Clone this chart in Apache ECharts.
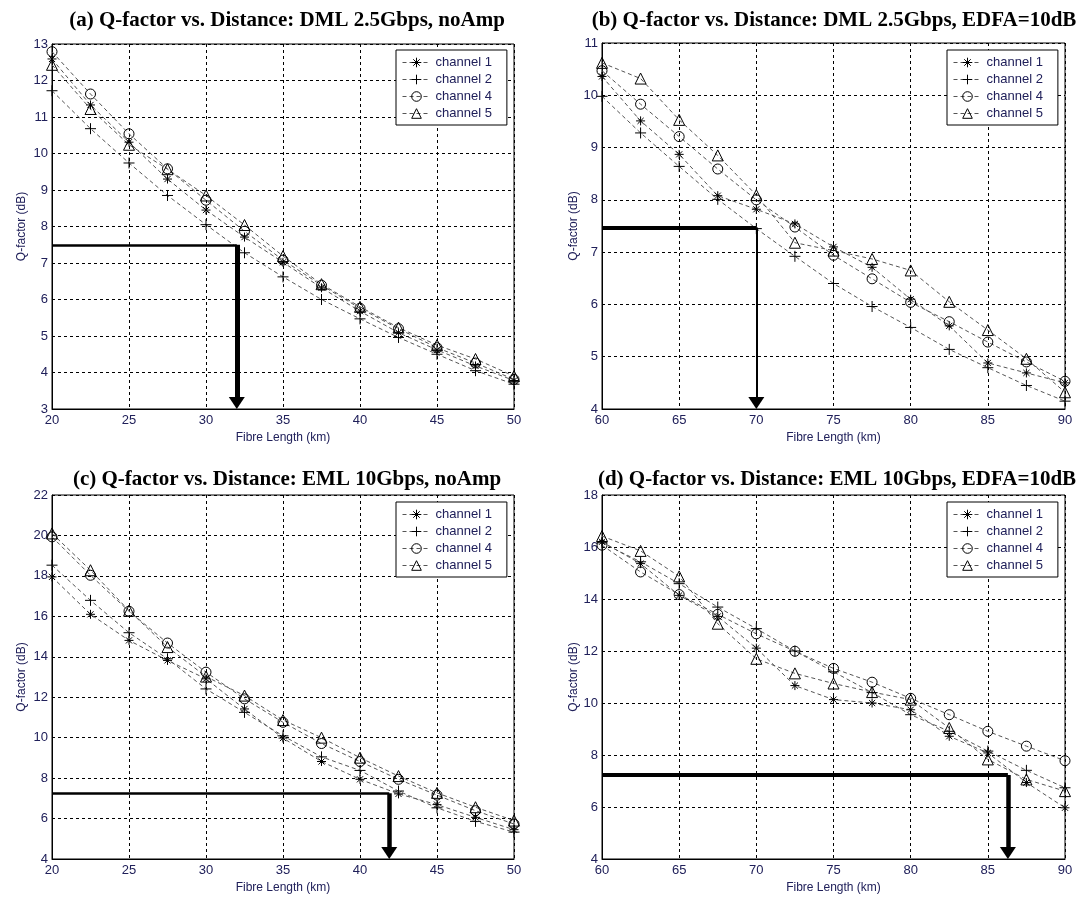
<!DOCTYPE html>
<html>
<head>
<meta charset="utf-8">
<script src="https://cdn.jsdelivr.net/npm/echarts@6/dist/echarts.min.js"></script>
<style>
  html, body { margin: 0; padding: 0; background: #fff; }
  #chart { width: 1082px; height: 901px; }
</style>
</head>
<body>
<div id="chart"></div>
<script>
// fibre lengths (km)
const kmShort = [20, 22.5, 25, 27.5, 30, 32.5, 35, 37.5, 40, 42.5, 45, 47.5, 50]
const kmLong = [60, 62.5, 65, 67.5, 70, 72.5, 75, 77.5, 80, 82.5, 85, 87.5, 90]

// (a) DML 2.5Gbps, no amp
const a_ch1 = [12.59, 11.33, 10.31, 9.30, 8.45, 7.71, 7.02, 6.32, 5.68, 5.09, 4.62, 4.18, 3.78]
const a_ch2 = [11.72, 10.68, 9.74, 8.85, 8.05, 7.28, 6.62, 6.00, 5.47, 4.96, 4.50, 4.05, 3.68]
const a_ch4 = [12.79, 11.63, 10.54, 9.58, 8.72, 7.87, 7.08, 6.39, 5.76, 5.20, 4.68, 4.26, 3.81]
const a_ch5 = [12.43, 11.22, 10.24, 9.57, 8.85, 8.04, 7.19, 6.42, 5.80, 5.23, 4.75, 4.37, 3.90]

// (b) DML 2.5Gbps, EDFA=10dB
const b_ch1 = [10.36, 9.51, 8.87, 8.08, 7.82, 7.54, 7.10, 6.71, 6.10, 5.59, 4.88, 4.69, 4.50]
const b_ch2 = [9.98, 9.28, 8.64, 8.01, 7.45, 6.92, 6.40, 5.96, 5.56, 5.14, 4.79, 4.45, 4.15]
const b_ch4 = [10.47, 9.83, 9.21, 8.59, 8.00, 7.48, 6.94, 6.49, 6.04, 5.67, 5.28, 4.90, 4.53]
const b_ch5 = [10.62, 10.32, 9.53, 8.85, 8.09, 7.18, 7.03, 6.87, 6.65, 6.05, 5.51, 4.96, 4.32]

// (c) EML 10Gbps, no amp
const c_ch1 = [17.95, 16.10, 14.81, 13.82, 12.91, 11.42, 9.98, 8.82, 7.94, 7.22, 6.69, 6.06, 5.45]
const c_ch2 = [18.53, 16.79, 15.19, 13.90, 12.41, 11.25, 10.09, 9.05, 8.38, 7.36, 6.53, 5.86, 5.33]
const c_ch4 = [19.93, 18.03, 16.25, 14.68, 13.24, 11.92, 10.76, 9.71, 8.82, 7.94, 7.16, 6.39, 5.73]
const c_ch5 = [20.10, 18.28, 16.28, 14.48, 13.02, 12.08, 10.87, 10.00, 9.01, 8.10, 7.27, 6.56, 5.90]

// (d) EML 10Gbps, EDFA=10dB
const d_ch1 = [16.20, 15.36, 14.14, 13.33, 12.11, 10.67, 10.13, 10.00, 9.74, 8.72, 8.08, 6.94, 5.97]
const d_ch2 = [16.16, 15.43, 14.59, 13.69, 12.86, 12.00, 11.20, 10.40, 9.55, 8.91, 8.15, 7.41, 6.74]
const d_ch4 = [16.07, 15.04, 14.17, 13.41, 12.66, 11.99, 11.33, 10.80, 10.18, 9.55, 8.91, 8.34, 7.78]
const d_ch5 = [16.42, 15.85, 14.87, 13.05, 11.70, 11.14, 10.75, 10.42, 10.13, 9.04, 7.83, 7.06, 6.61]

const channelNames = ['channel 1', 'channel 2', 'channel 4', 'channel 5']

// threshold read-offs: Q level and distance
const markA = [7.5, 32]
const markB = [7.47, 70]
const markC = [7.25, 41.9]
const markD = [7.23, 86.3]

const TEXT = '#20205a'
const SYM_PLUS = 'path://M5,0L5,10M0,5L10,5'
const SYM_STAR = 'path://M5,0L5,10M0,5L10,5M1.6,1.6L8.4,8.4M1.6,8.4L8.4,1.6'
const ARROW_W = 16
const ARROW_H = 12

const panels = [
  {
    title: '(a) Q-factor vs. Distance: DML 2.5Gbps, noAmp',
    titleX: 282, titleY: 5,
    grid: { left: 52, top: 44, width: 462, height: 365 },
    legend: { left: 396, top: 50 },
    yNameGap: 24,
    km: kmShort, xMin: 20, xMax: 50,
    yMin: 3, yMax: 13, yStep: 1,
    values: [a_ch1, a_ch2, a_ch4, a_ch5],
    mark: markA, hWidth: 2.5, vWidth: 5
  },
  {
    title: '(b) Q-factor vs. Distance: DML 2.5Gbps, EDFA=10dB',
    titleX: 829, titleY: 5,
    grid: { left: 602, top: 43, width: 463, height: 366 },
    legend: { left: 947, top: 50 },
    yNameGap: 21,
    km: kmLong, xMin: 60, xMax: 90,
    yMin: 4, yMax: 11, yStep: 1,
    values: [b_ch1, b_ch2, b_ch4, b_ch5],
    mark: markB, hWidth: 4, vWidth: 2
  },
  {
    title: '(c) Q-factor vs. Distance: EML 10Gbps, noAmp',
    titleX: 282, titleY: 464,
    grid: { left: 52, top: 495, width: 462, height: 364 },
    legend: { left: 396, top: 502 },
    yNameGap: 24,
    km: kmShort, xMin: 20, xMax: 50,
    yMin: 4, yMax: 22, yStep: 2,
    values: [c_ch1, c_ch2, c_ch4, c_ch5],
    mark: markC, hWidth: 2.5, vWidth: 4.5
  },
  {
    title: '(d) Q-factor vs. Distance: EML 10Gbps, EDFA=10dB',
    titleX: 832, titleY: 464,
    grid: { left: 602, top: 495, width: 463, height: 364 },
    legend: { left: 947, top: 502 },
    yNameGap: 21,
    km: kmLong, xMin: 60, xMax: 90,
    yMin: 4, yMax: 18, yStep: 2,
    values: [d_ch1, d_ch2, d_ch4, d_ch5],
    mark: markD, hWidth: 4, vWidth: 4.5
  }
]

const seriesLook = [
  { symbol: SYM_STAR, symbolSize: 9 },
  { symbol: SYM_PLUS, symbolSize: 11 },
  { symbol: 'circle', symbolSize: 10 },
  { symbol: 'triangle', symbolSize: 11 }
]

function buildMarkLine(p) {
  const [q, dist] = p.mark
  // lift the arrow centre so its tip sits on the x axis
  const lift = (p.yMax - p.yMin) * (ARROW_H / 2) / p.grid.height
  return {
    silent: true,
    animation: false,
    symbol: ['none', 'none'],
    label: { show: false },
    emphasis: { disabled: true },
    lineStyle: { color: '#000', type: 'solid' },
    data: [
      [
        { coord: [p.xMin, q], lineStyle: { width: p.hWidth, color: '#000', type: 'solid' } },
        { coord: [dist, q] }
      ],
      [
        { coord: [dist, q], lineStyle: { width: p.vWidth, color: '#000', type: 'solid' } },
        { coord: [dist, p.yMin + lift], symbol: 'triangle', symbolSize: [ARROW_W, ARROW_H] }
      ]
    ]
  }
}

function buildOption() {
  const option = {
    backgroundColor: '#fff',
    animation: false,
    title: [],
    legend: [],
    grid: [],
    xAxis: [],
    yAxis: [],
    series: []
  }

  panels.forEach((p, gi) => {
    option.title.push({
      text: p.title,
      left: p.titleX,
      top: p.titleY,
      textAlign: 'center',
      textStyle: {
        fontFamily: 'Liberation Serif',
        fontWeight: 'bold',
        fontSize: 21,
        color: '#000'
      }
    })

    option.legend.push({
      data: channelNames,
      orient: 'vertical',
      left: p.legend.left,
      top: p.legend.top,
      backgroundColor: '#fff',
      borderColor: '#000',
      borderWidth: 1,
      borderRadius: 0,
      padding: [6, 15, 5, 6],
      itemWidth: 28,
      itemHeight: 12,
      itemGap: 4,
      selectedMode: false,
      itemStyle: { borderWidth: 1, borderColor: '#000' },
      lineStyle: { width: 1 },
      textStyle: { fontFamily: 'Liberation Sans', fontSize: 13, color: TEXT }
    })

    option.grid.push({
      ...p.grid,
      show: true,
      borderColor: '#000',
      borderWidth: 1,
      backgroundColor: '#fff',
      containLabel: false
    })

    option.xAxis.push({
      type: 'value',
      gridIndex: gi,
      min: p.xMin,
      max: p.xMax,
      interval: 5,
      name: 'Fibre Length (km)',
      nameLocation: 'middle',
      nameGap: 23,
      nameTextStyle: { fontFamily: 'Liberation Sans', fontSize: 12, color: TEXT },
      axisLine: { show: true, lineStyle: { color: '#000', width: 1 } },
      axisTick: { show: false },
      axisLabel: { fontFamily: 'Liberation Sans', fontSize: 13, color: TEXT, margin: 5 },
      splitLine: { show: true, lineStyle: { color: '#000', type: [3, 3], width: 1 } }
    })

    option.yAxis.push({
      type: 'value',
      gridIndex: gi,
      min: p.yMin,
      max: p.yMax,
      interval: p.yStep,
      name: 'Q-factor (dB)',
      nameLocation: 'middle',
      nameGap: p.yNameGap,
      nameTextStyle: { fontFamily: 'Liberation Sans', fontSize: 12, color: TEXT },
      axisLine: { show: true, lineStyle: { color: '#000', width: 1 } },
      axisTick: { show: false },
      axisLabel: { fontFamily: 'Liberation Sans', fontSize: 13, color: TEXT, margin: 4 },
      splitLine: { show: true, lineStyle: { color: '#000', type: [3, 3], width: 1 } }
    })

    p.values.forEach((vals, si) => {
      const look = seriesLook[si]
      const s = {
        name: channelNames[si],
        type: 'line',
        xAxisIndex: gi,
        yAxisIndex: gi,
        data: p.km.map((k, i) => [k, vals[i]]),
        symbol: look.symbol,
        symbolSize: look.symbolSize,
        showAllSymbol: true,
        lineStyle: { color: '#555', width: 1, type: [4, 3] },
        itemStyle: { color: 'rgba(255,255,255,0)', borderColor: '#000', borderWidth: 1 },
        emphasis: { disabled: true },
        z: 3
      }
      if (si === 0) s.markLine = buildMarkLine(p)
      option.series.push(s)
    })
  })

  return option
}

const chart = echarts.init(document.getElementById('chart'), null, { renderer: 'canvas' })
chart.setOption(buildOption())
</script>
</body>
</html>
